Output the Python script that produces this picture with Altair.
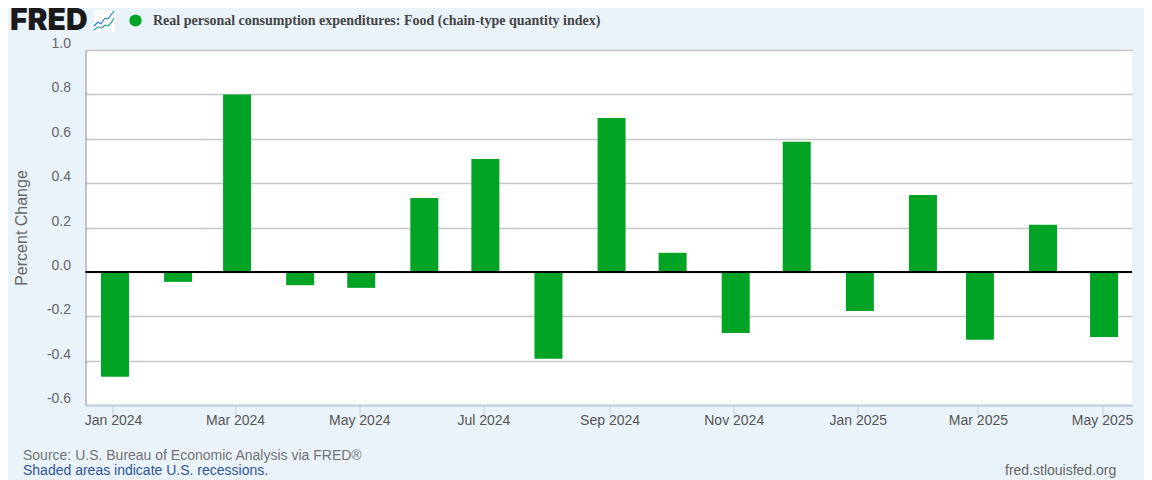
import altair as alt
import pandas as pd

months = ["2024-01-01","2024-02-01","2024-03-01","2024-04-01","2024-05-01","2024-06-01","2024-07-01","2024-08-01","2024-09-01","2024-10-01","2024-11-01","2024-12-01","2025-01-01","2025-02-01","2025-03-01","2025-04-01","2025-05-01"]
values = [-0.473,-0.045,0.80,-0.06,-0.072,0.333,0.509,-0.392,0.694,0.086,-0.275,0.586,-0.176,0.347,-0.306,0.212,-0.293]
y_ticks = [-0.6,-0.4,-0.2,0.0,0.2,0.4,0.6,0.8,1.0]
tick_months = [(2024,1),(2024,3),(2024,5),(2024,7),(2024,9),(2024,11),(2025,1),(2025,3),(2025,5)]
series_name = "Real personal consumption expenditures: Food (chain-type quantity index)"
source = "Source: U.S. Bureau of Economic Analysis via FRED®"
shaded = "Shaded areas indicate U.S. recessions."
site = "fred.stlouisfed.org"

df = pd.DataFrame({"date": months, "value": values})
one = pd.DataFrame({"a": [0]})
zero = pd.DataFrame({"v": [0.0]})

BG = "#EAF2FA"
GREEN = "#00A323"
X0, Y0 = 85.5, 50.0

x_scale = alt.Scale(type="utc", padding=0, domain=[
    alt.DateTime(year=2023, month=12, date=18, hours=12, utc=True),
    alt.DateTime(year=2025, month=5, date=15, hours=17, utc=True)])
y_scale = alt.Scale(domain=[-0.6, 1.0], nice=False, zero=False)

bars = alt.Chart(df).mark_bar(color=GREEN, size=28, xOffset=2, cornerRadius=0).encode(
    x=alt.X("date:T", scale=x_scale, title=None, axis=alt.Axis(
        values=[alt.DateTime(year=y, month=m, date=1, utc=True) for y, m in tick_months],
        format="%b %Y", grid=False, tickColor="#C0D0E0", tickSize=10, tickWidth=1,
        domainColor="#C0D0E0", domainWidth=2, labelColor="#555555", labelFont="Liberation Sans",
        labelFontSize=14, labelPadding=-2, labelFlush=False, labelOverlap=False)),
    y=alt.Y("value:Q", scale=y_scale, title="Percent Change", axis=alt.Axis(
        values=y_ticks, labelExpr="replace(format(datum.value, '.1f'), '\u2212', '-')",
        grid=True, gridColor="#C6C6C6", gridWidth=1.5,
        domainColor="#888888", domainWidth=1, ticks=False, labelColor="#666666",
        labelFont="Liberation Sans", labelFontSize=14, labelPadding=15, labelOffset=-6.5,
        titleColor="#666666", titleFont="Liberation Sans", titleFontSize=16,
        titleFontWeight="normal", titlePadding=17)),
    y2=alt.datum(0),
)

zero_line = alt.Chart(zero).mark_rule(color="#000000", strokeWidth=2).encode(y=alt.Y("v:Q", scale=y_scale))

def text(s, px, py, **kw):
    return alt.Chart(one).mark_text(text=s, align=kw.pop("align", "left"), baseline="middle", **kw).encode(
        x=alt.value(px - X0), y=alt.value(py - Y0))

def seg(x1, y1, x2, y2, color):
    return alt.Chart(one).mark_rule(color=color, strokeWidth=1.2).encode(
        x=alt.value(x1 - X0), x2=alt.value(x2 - X0), y=alt.value(y1 - Y0), y2=alt.value(y2 - Y0))

icon_bg = alt.Chart(one).mark_rect(color="#FFFFFF", cornerRadius=2).encode(
    x=alt.value(94 - X0), x2=alt.value(115 - X0), y=alt.value(10 - Y0), y2=alt.value(32 - Y0))

blue = [(94,26),(98,22),(101,24),(105,18),(108,19),(111,15),(114,11)]
teal = [(94,30),(98,27),(102,28),(105,25),(108,26),(111,23),(114,18)]
icon = []
for pts, c in ((blue, "#2B7DE0"), (teal, "#2A9D8F")):
    for a, b in zip(pts[:-1], pts[1:]):
        icon.append(seg(a[0], a[1], b[0], b[1], c))

dot = alt.Chart(one).mark_point(filled=True, color=GREEN, size=150, opacity=1).encode(
    x=alt.value(135.5 - X0), y=alt.value(20.5 - Y0))

layers = [
    bars, zero_line, icon_bg, *icon, dot,
    text("FRED", 10, 21, font="Inter", fontSize=30, fontWeight=900, color="#1A1A1A"),
    text(series_name, 153, 21, font="Liberation Serif", fontSize=14, fontWeight="bold", color="#444444"),
    text(source, 23, 456, font="Liberation Sans", fontSize=14, color="#737373"),
    text(shaded, 23, 471, font="Liberation Sans", fontSize=14, color="#2F5597"),
    text(site, 1005, 471, font="Liberation Sans", fontSize=14, color="#666666"),
]

chart = alt.layer(*layers).properties(
    width=1046.5, height=355, background=BG,
    padding={"left": 77.5, "top": 42, "right": 12, "bottom": 75},
    autosize=alt.AutoSizeParams(type="none", contains="content"),
).configure_view(fill="#FFFFFF", stroke=None)

chart.save("out.html", embed_options={"renderer": "svg", "actions": False})
